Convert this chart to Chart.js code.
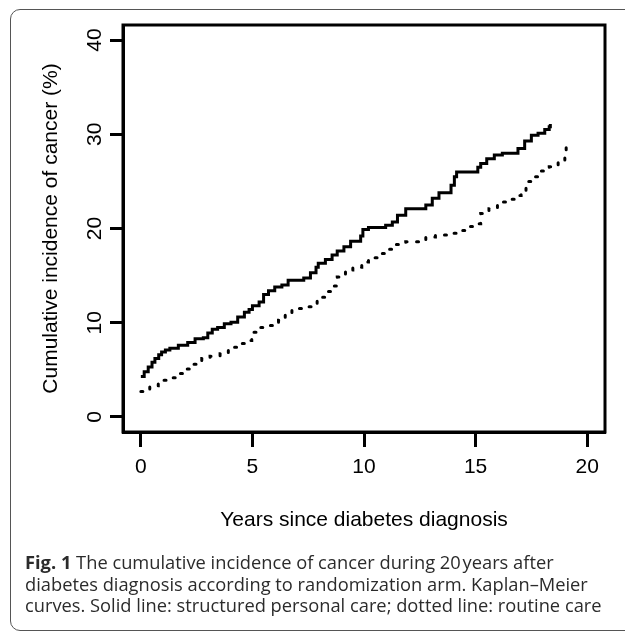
<!DOCTYPE html>
<html>
<head>
<meta charset="utf-8">
<script src="https://cdn.jsdelivr.net/npm/chart.js@4.4.1/dist/chart.umd.min.js"></script>
<style>
html, body { margin: 0; padding: 0; background: #fff; width: 625px; height: 632px; overflow: hidden; }
#frame { position: absolute; left: 10px; top: 9px; width: 680px; height: 622px; border: 1.5px solid #555; border-radius: 10px; box-sizing: border-box; }
#wrap { position: absolute; left: 0; top: 0; width: 625px; height: 560px; }
#caption { position: absolute; left: 25px; top: 551px; font-family: 'Open Sans', sans-serif; font-size: 18.3px; line-height: 21.5px; color: #2b2b2b; white-space: nowrap; letter-spacing: 0; }
#caption b { font-weight: 700; }
</style>
</head>
<body>
<div id="frame"></div>
<div id="wrap"><canvas id="c" width="625" height="560"></canvas></div>
<div id="caption">
<div><b>Fig. 1</b> The cumulative incidence of cancer during 20&#8202;years after</div>
<div>diabetes diagnosis according to randomization arm. Kaplan–Meier</div>
<div>curves. Solid line: structured personal care; dotted line: routine care</div>
</div>
<script>
// Solid line: structured personal care (time in years, cumulative incidence %)
const solidX = [0, 0.15, 0.33, 0.5, 0.63, 0.8, 0.93, 1.1, 1.3, 1.68, 2.1, 2.43, 2.8, 3.0, 3.2, 3.44, 3.74, 4.04, 4.34, 4.64, 4.85, 5.0, 5.3, 5.5, 5.72, 6.0, 6.32, 6.6, 7.3, 7.6, 7.85, 7.95, 8.27, 8.57, 8.8, 9.1, 9.4, 9.85, 9.95, 10.2, 10.97, 11.27, 11.5, 11.87, 12.77, 13.06, 13.36, 13.9, 14.05, 14.15, 15.1, 15.23, 15.5, 15.84, 16.2, 16.9, 17.2, 17.5, 17.8, 18.1, 18.3, 18.35];
const solidY = [4.3, 4.8, 5.3, 5.8, 6.2, 6.6, 6.9, 7.1, 7.3, 7.6, 7.9, 8.3, 8.4, 8.9, 9.3, 9.5, 9.9, 10.05, 10.6, 11.1, 11.4, 11.8, 12.2, 13.0, 13.4, 13.8, 14.0, 14.5, 14.75, 15.3, 15.9, 16.3, 16.7, 17.2, 17.6, 18.05, 18.65, 19.2, 19.9, 20.1, 20.35, 20.7, 21.4, 22.1, 22.5, 23.2, 23.8, 24.6, 25.5, 26.0, 26.5, 26.9, 27.4, 27.8, 28.0, 28.5, 29.3, 29.9, 30.1, 30.5, 30.8, 31.1];
// Dotted line: routine care
const dottedX = [0, 0.4, 0.78, 1.23, 1.6, 1.98, 2.35, 2.73, 3.1, 3.55, 3.92, 4.37, 4.67, 4.97, 5.35, 5.72, 6.17, 6.47, 6.77, 7.2, 7.66, 7.9, 8.27, 8.57, 8.8, 9.17, 9.5, 9.9, 10.2, 10.6, 11.04, 11.4, 11.87, 12.77, 13.2, 13.7, 14.2, 14.6, 15.0, 15.23, 15.6, 15.98, 16.36, 16.74, 17.04, 17.26, 17.6, 17.94, 18.3, 18.7, 19.0, 19.06];
const dottedY = [2.7, 3.3, 3.9, 4.15, 4.6, 5.1, 5.6, 6.2, 6.45, 6.7, 7.4, 7.8, 8.1, 9.0, 9.5, 9.7, 10.25, 10.8, 11.5, 11.7, 11.9, 12.7, 13.3, 13.9, 14.85, 15.6, 15.9, 16.45, 16.9, 17.35, 17.8, 18.3, 18.6, 19.1, 19.3, 19.5, 19.8, 20.2, 20.5, 21.6, 22.1, 22.8, 23.1, 23.5, 24.0, 25.0, 25.5, 26.1, 26.55, 27.1, 27.6, 28.9];
const xTicks = [0, 5, 10, 15, 20];
const yTicks = [0, 10, 20, 30, 40];
const xTitle = 'Years since diabetes diagnosis';
const yTitle = 'Cumulative incidence of cancer (%)';

const axisFont = { family: "'Liberation Sans', Arial, sans-serif", size: 21 };

const boxPlugin = {
  id: 'plotBox',
  afterDatasetsDraw(chart) {
    const { ctx, chartArea: a } = chart;
    ctx.save();
    ctx.strokeStyle = '#000';
    ctx.lineWidth = 3;
    ctx.strokeRect(a.left, a.top, a.right - a.left, a.bottom - a.top);
    ctx.restore();
  }
};

new Chart(document.getElementById('c'), {
  type: 'line',
  data: {
    datasets: [
      {
        label: 'Structured personal care',
        data: solidX.map((x, i) => ({ x: x, y: solidY[i] })),
        borderColor: '#000',
        borderWidth: 3,
        pointRadius: 0,
        stepped: 'before',
        fill: false
      },
      {
        label: 'Routine care',
        data: dottedX.map((x, i) => ({ x: x, y: dottedY[i] })),
        borderColor: '#000',
        borderWidth: 3,
        borderDash: [2, 9.5],
        borderCapStyle: 'round',
        pointRadius: 0,
        stepped: 'before',
        fill: false
      }
    ]
  },
  options: {
    responsive: false,
    animation: false,
    devicePixelRatio: 1,
    layout: { padding: { left: 0, top: 25, right: 20, bottom: 0 } },
    plugins: { legend: { display: false }, tooltip: { enabled: false } },
    scales: {
      x: {
        type: 'linear',
        min: -0.8,
        max: 20.8,
        afterBuildTicks: (s) => { s.ticks = xTicks.map(v => ({ value: v })); },
        afterFit: (s) => { s.height = 128; },
        grid: { drawOnChartArea: false, drawTicks: true, tickLength: 15, tickWidth: 3, tickColor: '#000' },
        border: { display: true, color: '#000', width: 3 },
        ticks: { color: '#000', font: axisFont, padding: 8, maxRotation: 0, autoSkip: false },
        title: { display: true, text: xTitle, color: '#000', font: axisFont, padding: { top: 0, bottom: 27 } }
      },
      y: {
        type: 'linear',
        min: -1.6,
        max: 41.6,
        afterBuildTicks: (s) => { s.ticks = yTicks.map(v => ({ value: v })); },
        afterFit: (s) => { s.width = 123; },
        grid: { drawOnChartArea: false, drawTicks: true, tickLength: 13, tickWidth: 3, tickColor: '#000' },
        border: { display: true, color: '#000', width: 3 },
        ticks: { color: '#000', font: axisFont, padding: 3, minRotation: 90, maxRotation: 90, crossAlign: 'center', autoSkip: false },
        title: { display: true, text: yTitle, color: '#000', font: axisFont, padding: { top: 39, bottom: 0 } }
      }
    }
  },
  plugins: [boxPlugin]
});
</script>
</body>
</html>
